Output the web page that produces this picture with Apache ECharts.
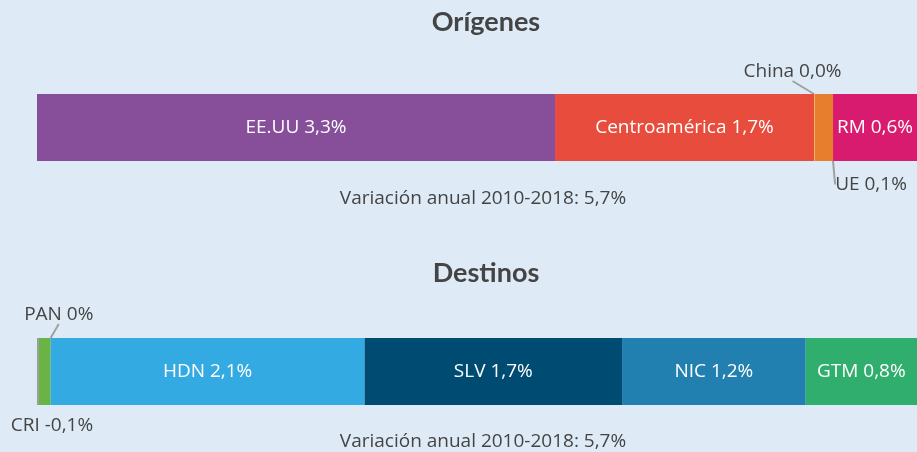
<!DOCTYPE html>
<html>
<head>
<meta charset="utf-8">
<script src="https://cdn.jsdelivr.net/npm/echarts@6/dist/echarts.min.js"></script>
<style>
  html, body { margin: 0; padding: 0; background: #deebf7; }
  #chart { width: 917px; height: 452px; }
</style>
</head>
<body>
<div id="chart"></div>
<script>
// Orígenes
const origenesCats = ['EE.UU', 'Centroamérica', 'China', 'UE', 'RM'];
const origenesValues = [3.3, 1.65, 0.006, 0.115, 0.6];
const origenesLabels = ['EE.UU 3,3%', 'Centroamérica 1,7%', 'China 0,0%', 'UE 0,1%', 'RM 0,6%'];
const origenesColors = ['#874f9a', '#e74c3c', '#f6b35c', '#e67e2e', '#d81b6e'];

// Destinos
const destinosCats = ['CRI', 'PAN', 'HDN', 'SLV', 'NIC', 'GTM'];
const destinosValues = [0.012, 0.075, 2.0, 1.64, 1.17, 0.8];
const destinosLabels = ['CRI -0,1%', 'PAN 0%', 'HDN 2,1%', 'SLV 1,7%', 'NIC 1,2%', 'GTM 0,8%'];
const destinosColors = ['#9a9a9a', '#6ab446', '#33aae1', '#004b72', '#2180af', '#2fae6d'];

const totalText = 'Variación anual 2010-2018: 5,7%';
// visible part of the axis (the chart is cut at the right edge)
const axisMax = 5.606;

const FONT = '"Open Sans", "Noto Sans", sans-serif';
const FS = 19;
const TXT = '#444444';

// labels that sit outside the bar (small segments)
const outsideLabels = {
  'China': { dx: -22, dy: -56, line: true },
  'UE': { dx: 47, dy: 57, line: true },
  'PAN': { dx: 14, dy: -57, line: true },
  'CRI': { dx: 14, dy: 54, line: false }
};

function buildSeries(cats, values, labels, colors, idx) {
  return cats.map((c, i) => {
    const out = outsideLabels[c];
    const s = {
      name: c,
      type: 'bar',
      stack: 'g' + idx,
      xAxisIndex: idx,
      yAxisIndex: idx,
      barWidth: 67,
      clip: true,
      data: [values[i]],
      itemStyle: { color: colors[i] },
      label: {
        show: true,
        position: 'inside',
        formatter: labels[i],
        color: out ? TXT : '#ffffff',
        fontFamily: FONT,
        fontSize: FS
      },
      emphasis: { disabled: true },
      animation: false
    };
    if (out) {
      s.labelLayout = { dx: out.dx, dy: out.dy, hideOverlap: false };
      s.labelLine = { show: out.line, lineStyle: { color: '#a0a0a0', width: 2 } };
    }
    return s;
  });
}

const chart = echarts.init(document.getElementById('chart'));
chart.setOption({
  backgroundColor: '#deebf7',
  title: [
    { text: 'Orígenes', left: 481, top: 4, textAlign: 'center',
      textStyle: { fontFamily: 'Lato', fontWeight: 'bold', fontSize: 27, color: TXT } },
    { text: totalText, left: 478, top: 184, textAlign: 'center',
      textStyle: { fontFamily: FONT, fontWeight: 'normal', fontSize: FS, color: TXT } },
    { text: 'Destinos', left: 481, top: 255, textAlign: 'center',
      textStyle: { fontFamily: 'Lato', fontWeight: 'bold', fontSize: 27, color: TXT } },
    { text: totalText, left: 478, top: 427, textAlign: 'center',
      textStyle: { fontFamily: FONT, fontWeight: 'normal', fontSize: FS, color: TXT } }
  ],
  grid: [
    { left: 37, right: 0, top: 94, height: 67 },
    { left: 37, right: 0, top: 338, height: 67 }
  ],
  xAxis: [
    { type: 'value', gridIndex: 0, min: 0, max: axisMax, show: false },
    { type: 'value', gridIndex: 1, min: 0, max: axisMax, show: false }
  ],
  yAxis: [
    { type: 'category', gridIndex: 0, data: [''], show: false },
    { type: 'category', gridIndex: 1, data: [''], show: false }
  ],
  series: [
    ...buildSeries(origenesCats, origenesValues, origenesLabels, origenesColors, 0),
    ...buildSeries(destinosCats, destinosValues, destinosLabels, destinosColors, 1)
  ]
});
</script>
</body>
</html>
